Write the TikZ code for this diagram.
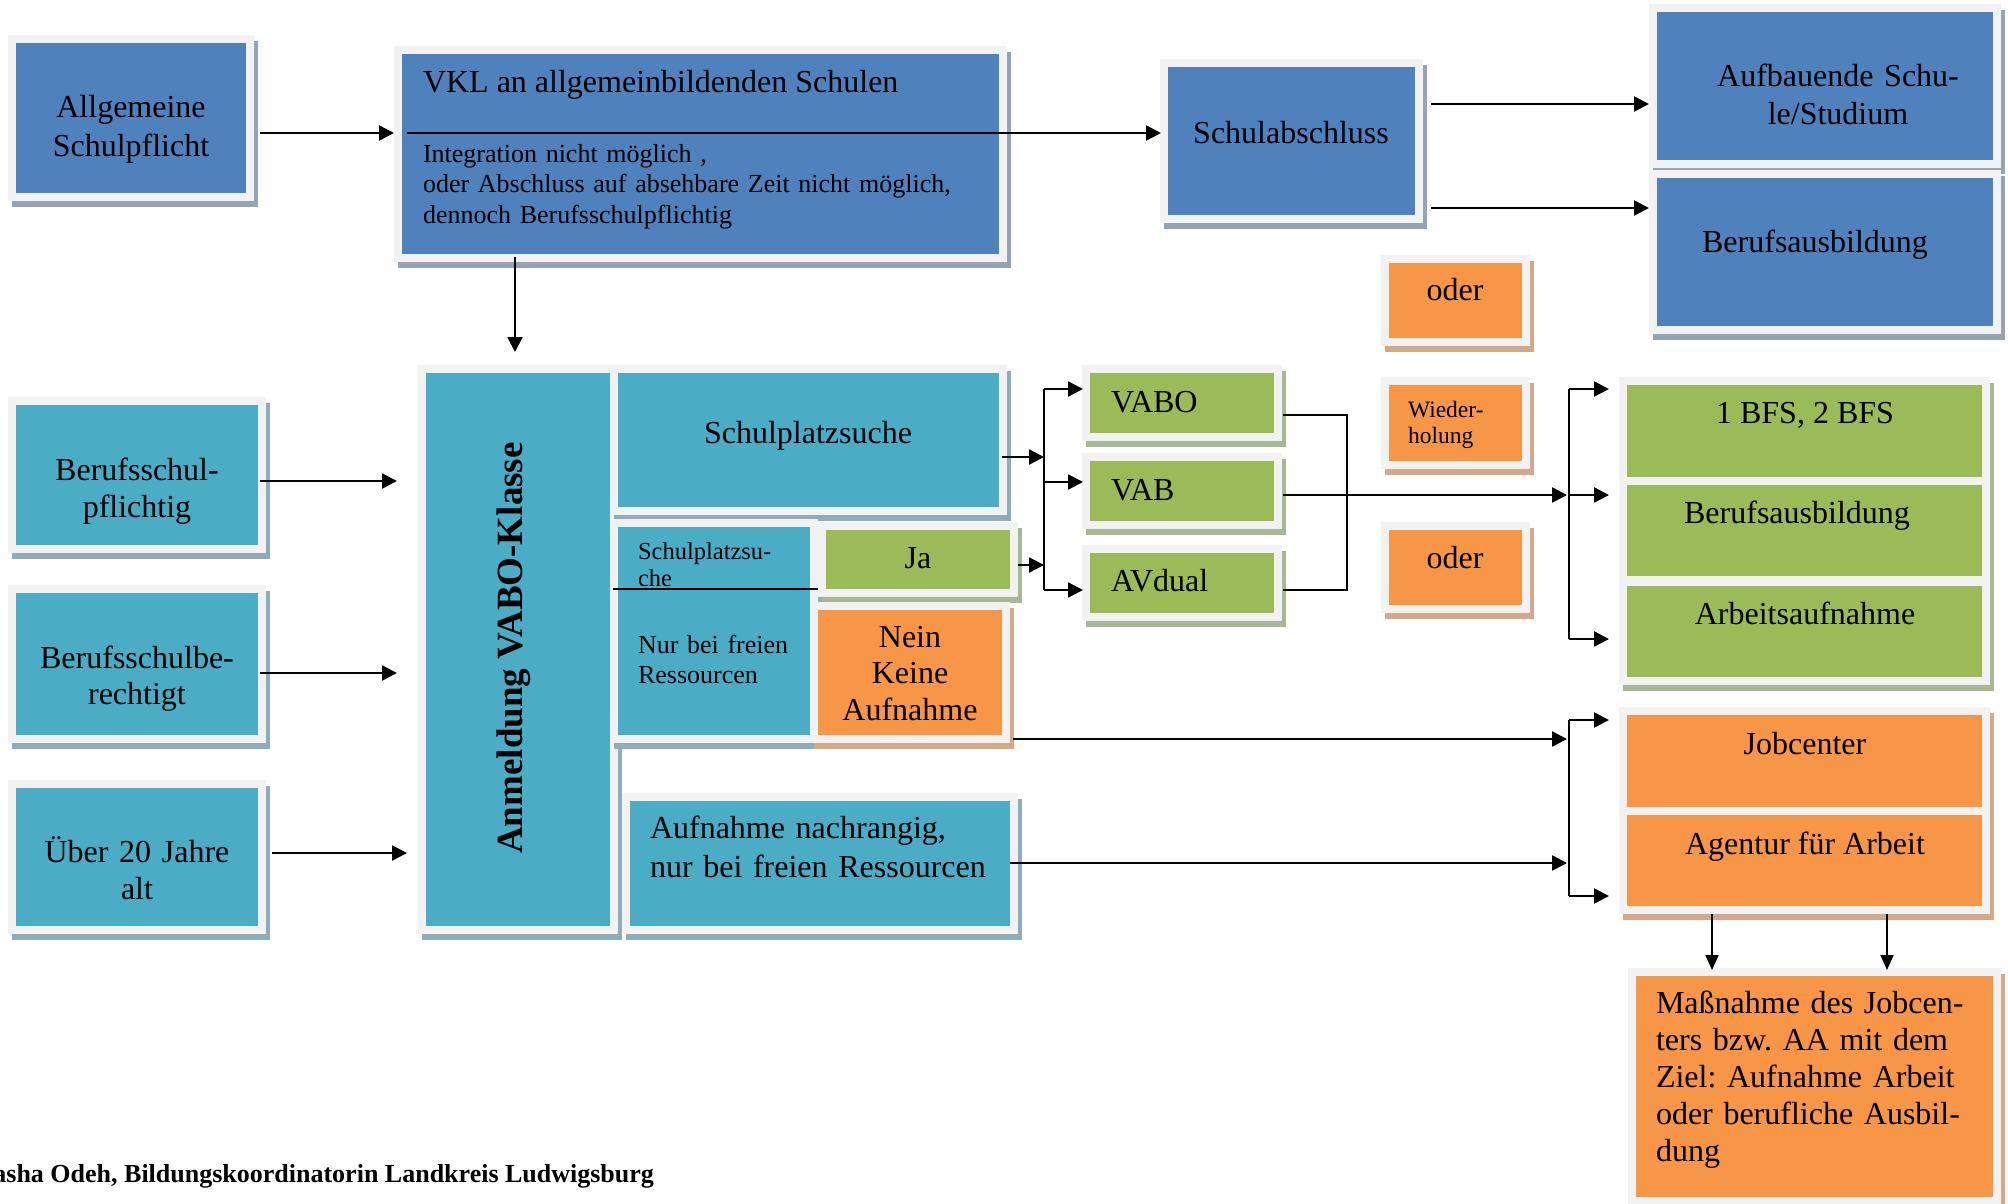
\documentclass[tikz,border=0pt]{standalone}
\usepackage{fontspec}
\setmainfont{Liberation Serif}
\usetikzlibrary{arrows.meta,calc}
\frenchspacing
\definecolor{cblue}{HTML}{4F81BD}
\definecolor{cteal}{HTML}{4BACC6}
\definecolor{cgreen}{HTML}{9BBB59}
\definecolor{corange}{HTML}{F79646}
\definecolor{cframe}{HTML}{F2F2F2}
\definecolor{sblue}{HTML}{95A3B6}
\definecolor{steal}{HTML}{8FADB8}
\definecolor{sgreen}{HTML}{AAB796}
\definecolor{sorange}{HTML}{D4A888}
\tikzset{
  boxnode/.style={inner sep=0pt, outer sep=0pt, anchor=north west, draw=none},
  txt/.style={inner sep=0pt, outer sep=0pt, text=black},
  fbig/.style={font=\fontsize{32}{#1}\selectfont},
  fbig/.default=38,
  arr/.style={draw=black, line width=2.4pt, -{Triangle[length=15pt,width=15pt]}},
  arrthin/.style={draw=black, line width=2pt, -{Triangle[length=15pt,width=13pt]}},
  thinl/.style={draw=black, line width=1.8pt},
  barl/.style={draw=black, line width=2.2pt}
}
\newcommand\mkbox[7]{%
  \fill[#7] ({#2-8+3.5},{#3-8+5.5}) rectangle ({#4+8+3.5},{#5+8+5.5});
  \fill[cframe] ({#2-8},{#3-8}) rectangle ({#4+8},{#5+8});
  \node[boxnode, fill=#6, minimum width={(#4)-(#2)}, minimum height={(#5)-(#3)}] (#1) at (#2,#3) {};
}
\begin{document}
\begin{tikzpicture}[x=1pt,y=-1pt]
\useasboundingbox (0,0) rectangle (2008,1203);
\fill[white] (0,0) rectangle (2008,1203);

% ---------- boxes ----------
\mkbox{allg}{16}{43}{246}{193}{cblue}{sblue}
\mkbox{vkl}{402}{54}{999}{254}{cblue}{sblue}
\mkbox{sab}{1168}{67}{1415}{215}{cblue}{sblue}
\mkbox{auf}{1657}{12}{1993}{160}{cblue}{sblue}
\mkbox{bab}{1657}{178}{1993}{326}{cblue}{sblue}
\mkbox{oderA}{1389}{263}{1522}{338}{corange}{sorange}
\mkbox{bsp}{16}{405}{258}{545}{cteal}{steal}
\mkbox{bsb}{16}{593}{258}{735}{cteal}{steal}
\mkbox{ue}{16}{788}{258}{926}{cteal}{steal}
\mkbox{anm}{426}{373}{610}{926}{cteal}{steal}
\mkbox{spz}{618}{373}{999}{507}{cteal}{steal}
\mkbox{spzb}{618}{527}{810}{735}{cteal}{steal}
\mkbox{ja}{826}{530}{1010}{589}{cgreen}{sgreen}
\mkbox{nein}{818}{610}{1002}{735}{corange}{sorange}
\mkbox{anr}{630}{801}{1010}{926}{cteal}{steal}
\mkbox{vabo}{1090}{373}{1274}{433}{cgreen}{sgreen}
\mkbox{vab}{1090}{461}{1274}{521}{cgreen}{sgreen}
\mkbox{avd}{1090}{553}{1274}{613}{cgreen}{sgreen}
\mkbox{wdh}{1389}{385}{1522}{461}{corange}{sorange}
\mkbox{oderB}{1389}{530}{1522}{605}{corange}{sorange}
\mkbox{bfs}{1627}{385}{1982}{477}{cgreen}{sgreen}
\mkbox{gba}{1627}{485}{1982}{576}{cgreen}{sgreen}
\mkbox{arb}{1627}{586}{1982}{677}{cgreen}{sgreen}
\mkbox{job}{1627}{715}{1982}{807}{corange}{sorange}
\mkbox{age}{1627}{815}{1982}{906}{corange}{sorange}
\mkbox{mas}{1636}{976}{1993}{1197}{corange}{sorange}

% ---------- texts ----------
\node[txt, fbig=39, text width=300pt, align=center, anchor=base] (tallg) at (131,117) {Allgemeine\\Schulpflicht};
\node[txt, fbig, anchor=base west] (tvkla) at (423,92) {VKL an allgemeinbildenden Schulen};
\node[txt, font=\fontsize{26}{30.5}\selectfont, text width=570pt, align=left, anchor=base west] (tvklb) at (423,162) {Integration nicht möglich ,\\oder Abschluss auf absehbare Zeit nicht möglich,\\dennoch Berufsschulpflichtig};
\node[txt, fbig, anchor=base] (tsab) at (1291,143) {Schulabschluss};
\node[txt, fbig=38, text width=330pt, align=center, anchor=base] (tauf) at (1838,86) {Aufbauende Schu-\\le/Studium};
\node[txt, fbig, anchor=base] (tbab) at (1815,252) {Berufsausbildung};
\node[txt, fbig, anchor=base] (toderA) at (1455,300) {oder};
\node[txt, fbig=37.5, text width=300pt, align=center, anchor=base] (tbsp) at (137,480) {Berufsschul-\\pflichtig};
\node[txt, fbig=36, text width=300pt, align=center, anchor=base] (tbsb) at (137,668) {Berufsschulbe-\\rechtigt};
\node[txt, fbig=37.5, text width=300pt, align=center, anchor=base] (tue) at (137,862) {Über 20 Jahre\\alt};
\node[txt, rotate=90, font=\bfseries\fontsize{37}{42}\selectfont] (tanm) at (514,648) {Anmeldung VABO-Klasse};
\node[txt, fbig, anchor=base] (tspz) at (808,443) {Schulplatzsuche};
\node[txt, font=\fontsize{24.5}{27}\selectfont, text width=190pt, align=left, anchor=base west] (tspzb) at (638,559) {Schulplatzsu-\\che};
\node[txt, font=\fontsize{26}{30}\selectfont, text width=190pt, align=left, anchor=base west] (tspzc) at (638,653) {Nur bei freien\\Ressourcen};
\node[txt, fbig, anchor=base] (tja) at (918,568) {Ja};
\node[txt, fbig=36.5, text width=200pt, align=center, anchor=base] (tnein) at (910,647) {Nein\\Keine\\Aufnahme};
\node[txt, fbig=39, text width=380pt, align=left, anchor=base west] (tanr) at (650,838) {Aufnahme nachrangig,\\nur bei freien Ressourcen};
\node[txt, fbig, anchor=base west] (tvabo) at (1111,412) {VABO};
\node[txt, fbig, anchor=base west] (tvab) at (1111,500) {VAB};
\node[txt, fbig, anchor=base west] (tavd) at (1111,591) {AVdual};
\node[txt, font=\fontsize{23.5}{26.5}\selectfont, text width=120pt, align=left, anchor=base west] (twdh) at (1408,417) {Wieder-\\holung};
\node[txt, fbig, anchor=base] (toderB) at (1455,568) {oder};
\node[txt, fbig, anchor=base] (tbfs) at (1805,423) {1 BFS, 2 BFS};
\node[txt, fbig, anchor=base] (tgba) at (1797,523) {Berufsausbildung};
\node[txt, fbig, anchor=base] (tarb) at (1805,624) {Arbeitsaufnahme};
\node[txt, fbig, anchor=base] (tjob) at (1805,754) {Jobcenter};
\node[txt, fbig, anchor=base] (tage) at (1805,854) {Agentur für Arbeit};
\node[txt, fbig=37, text width=340pt, align=left, anchor=base west] (tmas) at (1656,1013) {Maßnahme des Jobcen-\\ters bzw. AA mit dem\\Ziel: Aufnahme Arbeit\\oder berufliche Ausbil-\\dung};
\node[txt, font=\bfseries\fontsize{26}{30}\selectfont, anchor=base east] (tfoot) at (654,1182) {asha Odeh, Bildungskoordinatorin Landkreis Ludwigsburg};

% ---------- helper coordinates ----------
\coordinate (yA) at (0,133);
\coordinate (xC) at (515,0);
\coordinate (y104) at (0,104);
\coordinate (y208) at (0,208);
\coordinate (y481) at (0,481);
\coordinate (y673) at (0,673);
\coordinate (y853) at (0,853);
\coordinate (y457) at (0,457);
\coordinate (y565) at (0,565);
\coordinate (y482) at (0,482);
\coordinate (y415) at (0,415);
\coordinate (y495) at (0,495);
\coordinate (y589) at (0,589);
\coordinate (y739) at (0,739);
\coordinate (y863) at (0,863);
\coordinate (xR) at (1347,0);
\coordinate (b1t) at (1044,389);
\coordinate (b1b) at (1044,590);
\coordinate (b2t) at (1569,389);
\coordinate (b2b) at (1569,639);
\coordinate (b3t) at (1569,720);
\coordinate (b3b) at (1569,896);
\coordinate (xD1) at (1712,0);
\coordinate (xD2) at (1887,0);

% ---------- connectors ----------
\draw[arr, shorten <=14pt, shorten >=8pt] (allg.east |- yA) -- (vkl.west |- yA);
\draw[arr, shorten <=5pt, shorten >=7pt] (vkl.west |- yA) -- (sab.west |- yA);
\draw[arr, shorten <=3pt, shorten >=21pt] (vkl.south -| xC) -- (anm.north -| xC);
\draw[arr, shorten <=16pt, shorten >=8pt] (sab.east |- y104) -- (auf.west |- y104);
\draw[arr, shorten <=16pt, shorten >=8pt] (sab.east |- y208) -- (bab.west |- y208);
\draw[arr, shorten <=2pt, shorten >=29pt] (bsp.east |- y481) -- (anm.west |- y481);
\draw[arr, shorten <=2pt, shorten >=29pt] (bsb.east |- y673) -- (anm.west |- y673);
\draw[arr, shorten <=14pt, shorten >=19pt] (ue.east |- y853) -- (anm.west |- y853);

\draw[thinl] ($(spzb.west |- y589)+(-5,0)$) -- ($(spzb.east |- y589)+(8,0)$);

\draw[arr, shorten <=3pt] (spz.east |- y457) -- (b1t |- y457);
\draw[arr, shorten <=8pt] (ja.east |- y565) -- (b1t |- y565);
\draw[barl] (b1t) -- (b1b);
\draw[arr, shorten >=7pt] (b1t) -- (vabo.west |- b1t);
\draw[arr, shorten >=7pt] (b1t |- y482) -- (vab.west |- y482);
\draw[arr, shorten >=7pt] (b1b) -- (avd.west |- b1b);
\draw[thinl, shorten <=9pt, shorten >=9pt] (vabo.east |- y415) -- (xR |- y415) -- (xR |- b1b) -- (avd.east |- b1b);

\draw[arr, shorten <=9pt, shorten >=2pt] (vab.east |- y495) -- (b2t |- y495);
\draw[barl] (b2t) -- (b2b);
\draw[arr, shorten >=18pt] (b2t) -- (bfs.west |- b2t);
\draw[arr, shorten >=18pt] (b2t |- y495) -- (gba.west |- y495);
\draw[arr, shorten >=18pt] (b2b) -- (arb.west |- b2b);

\draw[arr, shorten <=11pt, shorten >=2pt] (nein.east |- y739) -- (b3t |- y739);
\draw[arr, shorten >=2pt] (anr.east |- y863) -- (b3t |- y863);
\draw[barl] (b3t) -- (b3b);
\draw[arr, shorten >=18pt] (b3t) -- (job.west |- b3t);
\draw[arr, shorten >=18pt] (b3b) -- (age.west |- b3b);

\draw[arrthin, shorten <=8pt, shorten >=6pt] (age.south -| xD1) -- (mas.north -| xD1);
\draw[arrthin, shorten <=8pt, shorten >=6pt] (age.south -| xD2) -- (mas.north -| xD2);
\end{tikzpicture}
\end{document}
